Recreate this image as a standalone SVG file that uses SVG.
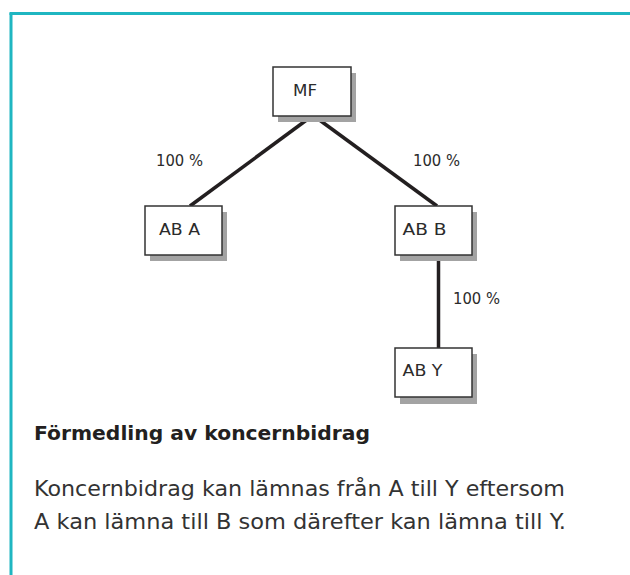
<svg xmlns="http://www.w3.org/2000/svg" width="630" height="575" viewBox="0 0 630 575">
  <style>
    .frame { stroke: #1fb6c1; stroke-width: 3; fill: none; }
    .shadow { fill: #a3a3a3; }
    .box { fill: #ffffff; stroke: #333333; stroke-width: 1.5; }
    .lbl { font-family: "DejaVu Sans", "Liberation Sans", sans-serif; font-size: 15px; fill: #2b2b2b; }
    .edge { stroke: #231f20; stroke-width: 3.5; fill: none; stroke-linecap: butt; }
    .title { font-family: "DejaVu Sans", "Liberation Sans", sans-serif; font-weight: bold; font-size: 20px; fill: #231f20; }
    .body { font-family: "DejaVu Sans", "Liberation Sans", sans-serif; font-size: 21px; fill: #333333; }
  </style>
  <rect width="630" height="575" fill="#ffffff"/>
  <g id="frame">
    <line class="frame" x1="9.5" y1="13.5" x2="630" y2="13.5"/>
    <line class="frame" x1="11" y1="13" x2="11" y2="575"/>
  </g>
  <g id="connectors">
    <line class="edge" x1="312" y1="116" x2="190" y2="206"/>
    <line class="edge" x1="314" y1="116" x2="437" y2="206"/>
    <line class="edge" x1="438.5" y1="255" x2="438.5" y2="348"/>
    <text class="lbl" x="156" y="166" textLength="47" lengthAdjust="spacingAndGlyphs">100 %</text>
    <text class="lbl" x="413" y="166" textLength="47" lengthAdjust="spacingAndGlyphs">100 %</text>
    <text class="lbl" x="453" y="304" textLength="47" lengthAdjust="spacingAndGlyphs">100 %</text>
  </g>
  <g id="node-mf">
    <rect class="shadow" x="278" y="73" width="78" height="49"/>
    <rect class="box" x="273" y="67" width="78" height="49"/>
    <text class="lbl" x="293" y="96" textLength="24" lengthAdjust="spacingAndGlyphs">MF</text>
  </g>
  <g id="node-ab-a">
    <rect class="shadow" x="150" y="212" width="77" height="49"/>
    <rect class="box" x="145" y="206" width="77" height="49"/>
    <text class="lbl" x="159" y="235" textLength="41" lengthAdjust="spacingAndGlyphs">AB A</text>
  </g>
  <g id="node-ab-b">
    <rect class="shadow" x="400" y="212" width="77" height="49"/>
    <rect class="box" x="395" y="206" width="77" height="49"/>
    <text class="lbl" x="402.5" y="235" textLength="44" lengthAdjust="spacingAndGlyphs">AB B</text>
  </g>
  <g id="node-ab-y">
    <rect class="shadow" x="400" y="354" width="77" height="50"/>
    <rect class="box" x="395" y="348" width="77" height="49"/>
    <text class="lbl" x="402.5" y="376" textLength="40" lengthAdjust="spacingAndGlyphs">AB Y</text>
  </g>
  <g id="caption">
    <text class="title" x="34" y="440" textLength="336" lengthAdjust="spacingAndGlyphs">Förmedling av koncernbidrag</text>
    <text class="body" x="34" y="496" textLength="531" lengthAdjust="spacingAndGlyphs">Koncernbidrag kan lämnas från A till Y eftersom</text>
    <text class="body" x="34" y="529" textLength="532" lengthAdjust="spacingAndGlyphs">A kan lämna till B som därefter kan lämna till Y.</text>
  </g>
</svg>
